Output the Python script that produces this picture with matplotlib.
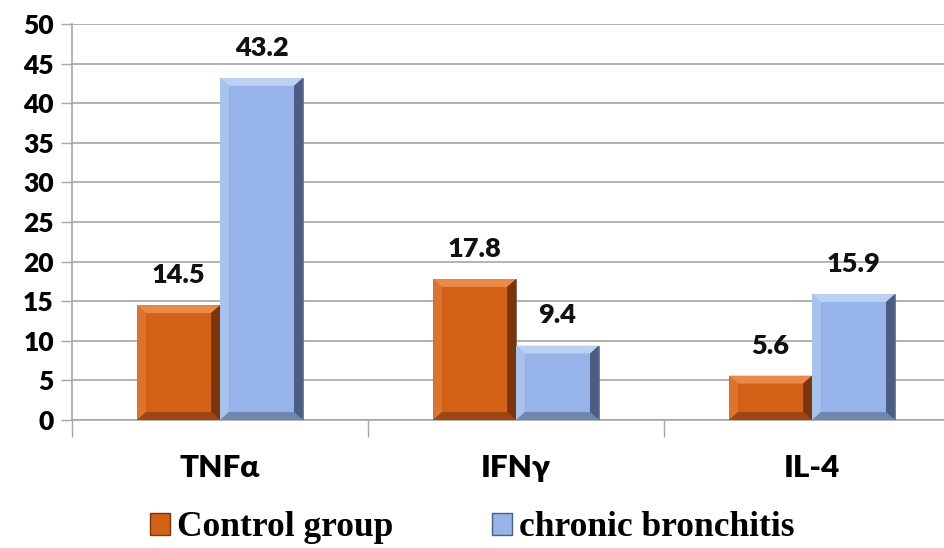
import matplotlib.pyplot as plt
import numpy as np
from matplotlib.patches import Polygon, Patch

categories = ['TNFα', 'IFNγ', 'IL-4']
control = [14.5, 17.8, 5.6]
bronchitis = [43.2, 9.4, 15.9]
series_names = ['Control group', 'chronic bronchitis']
yticks = [0, 5, 10, 15, 20, 25, 30, 35, 40, 45, 50]

# main, top bevel, left bevel, bottom bevel, right bevel
orange = ['#D46216', '#EC8A45', '#DC7330', '#9C4610', '#7A350A']
blue = ['#96B4E9', '#BCD0F4', '#A8C2EE', '#6F86B0', '#4B5D82']

plt.rcParams['font.family'] = ['Lato', 'DejaVu Sans']

fig = plt.figure(figsize=(9.45, 5.48), dpi=100)
ax = fig.add_axes([72 / 945, 1 - 420 / 548, 888 / 945, 396 / 548])

x = np.arange(len(categories))
w = 0.28


def bevel_bar(ax, xs, vals, cols):
    bars = ax.bar(xs, vals, w, color=cols[0], edgecolor='#3A3A3A', linewidth=0.4, zorder=3)
    bx = 0.03  # bevel in x data units (~8px)
    by = 1.0   # bevel in y data units (~8px)
    for b in bars:
        x0, y0 = b.get_x(), b.get_y()
        x1, y1 = x0 + b.get_width(), y0 + b.get_height()
        dy = min(by, (y1 - y0) / 3)
        top = [(x0, y1), (x1, y1), (x1 - bx, y1 - dy), (x0 + bx, y1 - dy)]
        left = [(x0, y0), (x0, y1), (x0 + bx, y1 - dy), (x0 + bx, y0 + dy)]
        bottom = [(x0, y0), (x1, y0), (x1 - bx, y0 + dy), (x0 + bx, y0 + dy)]
        right = [(x1, y0), (x1, y1), (x1 - bx, y1 - dy), (x1 - bx, y0 + dy)]
        for pts, c in [(top, cols[1]), (left, cols[2]), (bottom, cols[3]), (right, cols[4])]:
            ax.add_patch(Polygon(pts, closed=True, facecolor=c, edgecolor='none', zorder=4))
    return bars


b1 = bevel_bar(ax, x - w / 2, control, orange)
b2 = bevel_bar(ax, x + w / 2, bronchitis, blue)

for bars, vals in [(b1, control), (b2, bronchitis)]:
    for b, v in zip(bars, vals):
        ax.annotate(f'{v}', (b.get_x() + b.get_width() / 2, v), xytext=(0, 13),
                    textcoords='offset points', ha='center', va='bottom',
                    fontsize=19.5, fontweight='heavy', color='#111111', zorder=5)

ax.set_xlim(-0.5, 2.5)
ax.set_ylim(0, 50)
ax.set_yticks(yticks)
ax.set_yticklabels([str(t) for t in yticks], fontsize=19, fontweight='heavy')
ax.yaxis.grid(True, color='#A6A6A6', linewidth=1.2, zorder=0)
ax.set_axisbelow(True)

# category labels centred, boundary ticks between them
ax.set_xticks([-0.5, 0.5, 1.5, 2.5])
ax.set_xticklabels([])
ax.tick_params(axis='x', length=12, width=1, color='#A6A6A6')
ax.tick_params(axis='y', length=8, width=1, color='#A6A6A6', pad=5)
for xi, c in zip(x, categories):
    ax.text(xi, -6.1, c, ha='center', va='center', fontsize=22.5, fontweight='heavy',
            transform=ax.transData)

for s in ['top', 'right']:
    ax.spines[s].set_visible(False)
for s in ['left', 'bottom']:
    ax.spines[s].set_color('#A6A6A6')
    ax.spines[s].set_linewidth(1.2)

handles = [Patch(facecolor=orange[0], edgecolor=orange[4]),
           Patch(facecolor=blue[0], edgecolor=blue[4])]
fig.legend(handles, series_names, loc='center', bbox_to_anchor=(0.5, 1 - 528 / 548),
           ncol=2, frameon=False, handlelength=0.55, handleheight=0.55, handletextpad=0.2,
           columnspacing=2.8,
           prop={'family': 'Liberation Serif', 'weight': 'bold', 'size': 25.5})

fig.savefig('out.png', dpi=100)
